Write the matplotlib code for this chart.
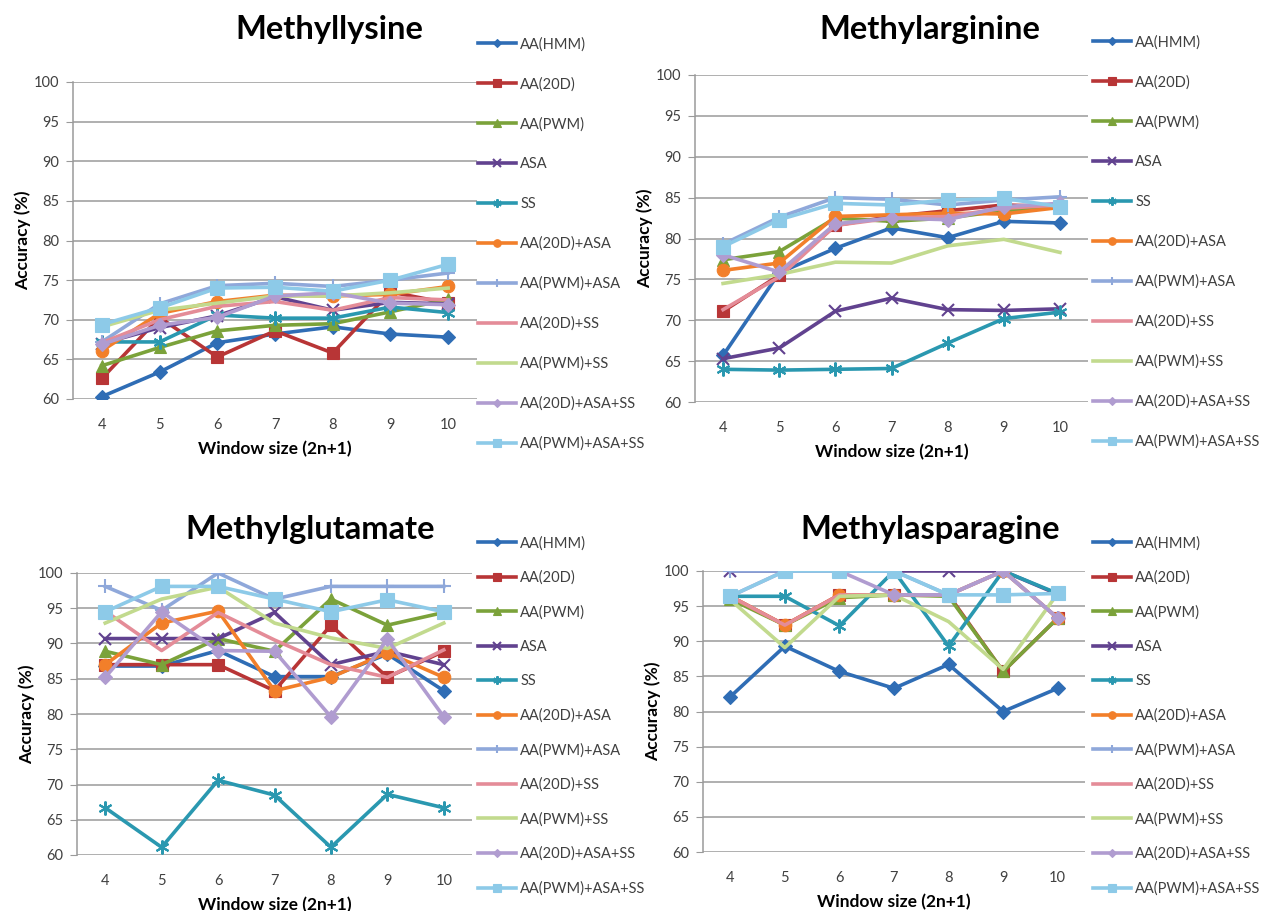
import matplotlib
matplotlib.use("Agg")
import matplotlib.pyplot as plt

plt.rcParams['font.family'] = ['Lato', 'DejaVu Sans']

W, H = 1267, 911

windows = [4, 5, 6, 7, 8, 9, 10]
series_names = ['AA(HMM)', 'AA(20D)', 'AA(PWM)', 'ASA', 'SS', 'AA(20D)+ASA',
                'AA(PWM)+ASA', 'AA(20D)+SS', 'AA(PWM)+SS', 'AA(20D)+ASA+SS',
                'AA(PWM)+ASA+SS']

# Methyllysine
lys_hmm = [60.3, 63.4, 67.1, 68.2, 69.1, 68.2, 67.8]
lys_20d = [62.6, 70.3, 65.3, 68.6, 65.8, 73.5, 72.1]
lys_pwm = [64.2, 66.5, 68.6, 69.3, 69.5, 71.0, 72.6]
lys_asa = [67.0, 69.0, 70.5, 72.9, 71.2, 72.2, 72.0]
lys_ss = [67.2, 67.2, 70.6, 70.2, 70.2, 71.6, 70.9]
lys_20d_asa = [66.1, 70.8, 72.3, 73.1, 73.0, 73.2, 74.2]
lys_pwm_asa = [67.2, 72.0, 74.3, 74.6, 74.2, 75.0, 75.9]
lys_20d_ss = [67.1, 70.0, 71.7, 72.3, 71.2, 72.8, 72.5]
lys_pwm_ss = [69.1, 71.2, 72.1, 73.0, 73.0, 73.4, 74.0]
lys_20d_asa_ss = [66.9, 69.3, 70.3, 73.0, 73.4, 72.1, 71.9]
lys_pwm_asa_ss = [69.4, 71.5, 74.0, 74.1, 73.6, 75.0, 77.0]

# Methylarginine
arg_hmm = [65.7, 75.8, 78.8, 81.3, 80.1, 82.1, 81.9]
arg_20d = [71.1, 75.5, 81.6, 82.7, 83.4, 84.1, 83.9]
arg_pwm = [77.4, 78.4, 82.5, 82.1, 82.5, 83.4, 83.9]
arg_asa = [65.3, 66.6, 71.1, 72.7, 71.3, 71.2, 71.4]
arg_ss = [64.0, 63.9, 64.0, 64.1, 67.2, 70.2, 71.0]
arg_20d_asa = [76.1, 77.0, 82.7, 82.9, 83.1, 83.0, 83.8]
arg_pwm_asa = [79.3, 82.6, 85.0, 84.8, 84.1, 84.7, 85.1]
arg_20d_ss = [71.3, 75.3, 81.6, 82.5, 82.7, 83.7, 84.1]
arg_pwm_ss = [74.5, 75.6, 77.1, 77.0, 79.1, 79.9, 78.3]
arg_20d_asa_ss = [78.0, 75.9, 81.8, 82.5, 82.3, 83.9, 84.3]
arg_pwm_asa_ss = [79.0, 82.3, 84.3, 84.1, 84.7, 84.9, 83.9]

# Methylglutamate
glu_hmm = [86.8, 86.8, 89.0, 85.3, 85.3, 88.5, 83.3]
glu_20d = [87.0, 87.0, 87.0, 83.3, 92.6, 85.2, 88.9]
glu_pwm = [88.9, 87.0, 90.7, 88.9, 96.3, 92.6, 94.4]
glu_asa = [90.7, 90.7, 90.7, 94.4, 87.0, 88.9, 87.0]
glu_ss = [66.7, 61.1, 70.6, 68.5, 61.1, 68.6, 66.7]
glu_20d_asa = [87.0, 92.9, 94.6, 83.3, 85.2, 88.7, 85.2]
glu_pwm_asa = [98.1, 94.7, 100.0, 96.3, 98.1, 98.1, 98.1]
glu_20d_ss = [94.6, 89.0, 94.4, 90.5, 87.0, 85.2, 89.1]
glu_pwm_ss = [92.9, 96.3, 98.0, 92.9, 90.8, 89.3, 92.9]
glu_20d_asa_ss = [85.2, 94.5, 89.0, 88.9, 79.6, 90.6, 79.6]
glu_pwm_asa_ss = [94.5, 98.1, 98.1, 96.3, 94.5, 96.2, 94.5]

# Methylasparagine
asn_hmm = [82.1, 89.3, 85.7, 83.3, 86.7, 80.0, 83.3]
asn_20d = [96.4, 92.3, 96.6, 96.6, 96.6, 85.7, 93.3]
asn_pwm = [96.0, 92.3, 96.2, 96.6, 96.4, 85.7, 93.3]
asn_asa = [100.0, 100.0, 100.0, 100.0, 100.0, 100.0, 96.7]
asn_ss = [96.4, 96.4, 92.2, 100.0, 89.3, 100.0, 96.8]
asn_20d_asa = [96.4, 92.3, 96.6, 96.6, 96.6, 100.0, 93.3]
asn_pwm_asa = [100.0, 100.0, 100.0, 100.0, 96.6, 100.0, 93.3]
asn_20d_ss = [96.4, 92.3, 96.6, 96.6, 96.6, 100.0, 93.3]
asn_pwm_ss = [95.9, 89.1, 96.4, 96.6, 92.8, 86.0, 96.8]
asn_20d_asa_ss = [96.4, 100.0, 100.0, 96.6, 96.6, 100.0, 93.3]
asn_pwm_asa_ss = [96.4, 100.0, 100.0, 100.0, 96.6, 96.6, 96.8]

colors = ['#2F6DB5', '#B83536', '#7BA23A', '#61428F', '#2A98B0', '#F27F2A',
          '#8FA8DA', '#E48C98', '#C2DA8E', '#B09CD0', '#8DCAE8']
asterisk = (6, 2, 0)
markers = ['D', 's', '^', 'x', asterisk, 'o', '+', None, None, 'D', 's']
msizes = [7, 9, 9, 9, 10, 9, 10, 0, 0, 7, 10]


def px(x, y):
    return x / W, 1 - y / H


def draw_panel(rect, title, title_xy, data, leg_xy, spacing):
    l, t, r, b = rect
    ax = fig.add_axes([l / W, 1 - b / H, (r - l) / W, (b - t) / H])
    pos = list(range(len(windows)))
    for i, vals in enumerate(data):
        ax.plot(pos, vals, color=colors[i], lw=2.6, marker=markers[i],
                ms=msizes[i], mew=1.5 if markers[i] in ('x', '+', asterisk) else 0.8,
                mec=colors[i], label=series_names[i], zorder=3 + i * 0.1)
    ax.set_xlim(-0.5, len(windows) - 0.5)
    ax.set_ylim(60, 100)
    ax.set_yticks(range(60, 101, 5))
    ax.set_xticks(pos)
    ax.set_xticklabels(windows)
    ax.grid(axis='y', color='#9A9A9A', lw=1.1)
    ax.set_axisbelow(True)
    for s in ('top', 'right', 'bottom'):
        ax.spines[s].set_visible(False)
    ax.spines['left'].set_color('#9A9A9A')
    ax.spines['left'].set_linewidth(1.1)
    ax.tick_params(axis='y', length=5, color='#9A9A9A', labelsize=10.5,
                   labelcolor='#404040', pad=5)
    ax.tick_params(axis='x', length=0, labelsize=10.5, labelcolor='#404040', pad=14)
    ax.set_xlabel('Window size (2n+1)', fontsize=12.5, fontweight='bold', labelpad=6)
    ax.set_ylabel('Accuracy (%)', fontsize=12.5, fontweight='bold', labelpad=2)
    fig.text(*px(*title_xy), title, fontsize=23.5, fontweight='bold',
             ha='center', va='center')
    leg = fig.legend(*ax.get_legend_handles_labels(), loc='upper left',
                     bbox_to_anchor=px(*leg_xy), frameon=False, fontsize=10.5,
                     labelspacing=spacing, handlelength=2.6, handletextpad=0.3,
                     borderpad=0, borderaxespad=0, markerscale=0.6)
    for txt in leg.get_texts():
        txt.set_color('#404040')
    return ax


fig = plt.figure(figsize=(W / 100, H / 100), dpi=100)

draw_panel((73, 82, 477, 399), 'Methyllysine', (329, 30),
           [lys_hmm, lys_20d, lys_pwm, lys_asa, lys_ss, lys_20d_asa,
            lys_pwm_asa, lys_20d_ss, lys_pwm_ss, lys_20d_asa_ss, lys_pwm_asa_ss],
           (478, 37), 1.76)
draw_panel((695, 75, 1088, 402), 'Methylarginine', (930, 30),
           [arg_hmm, arg_20d, arg_pwm, arg_asa, arg_ss, arg_20d_asa,
            arg_pwm_asa, arg_20d_ss, arg_pwm_ss, arg_20d_asa_ss, arg_pwm_asa_ss],
           (1093, 35), 1.76)
draw_panel((77, 573, 472, 855), 'Methylglutamate', (310, 530),
           [glu_hmm, glu_20d, glu_pwm, glu_asa, glu_ss, glu_20d_asa,
            glu_pwm_asa, glu_20d_ss, glu_pwm_ss, glu_20d_asa_ss, glu_pwm_asa_ss],
           (478, 536), 1.39)
draw_panel((703, 571, 1085, 852), 'Methylasparagine', (930, 530),
           [asn_hmm, asn_20d, asn_pwm, asn_asa, asn_ss, asn_20d_asa,
            asn_pwm_asa, asn_20d_ss, asn_pwm_ss, asn_20d_asa_ss, asn_pwm_asa_ss],
           (1093, 536), 1.39)

fig.savefig('out.png', dpi=100)
